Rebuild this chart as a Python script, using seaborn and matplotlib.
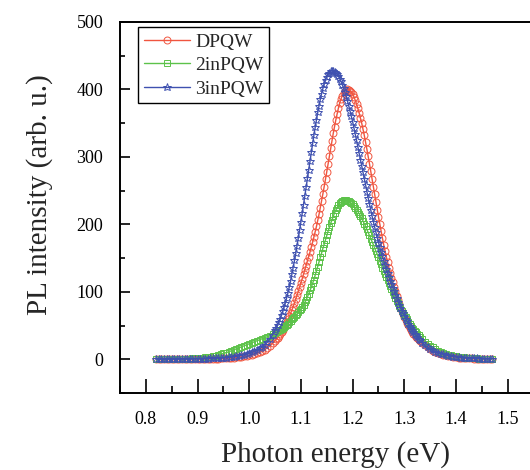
import numpy as np
import pandas as pd
import matplotlib
matplotlib.use("Agg")
import matplotlib.pyplot as plt
from matplotlib.ticker import MultipleLocator
import seaborn as sns

# ---- data ----
# photon energy grid: 5 meV in the tails, 2.5 meV across the peaks
energy = np.round(np.concatenate([
    np.arange(0.820, 1.0499, 0.005),     # 0.820 ... 1.045  (46)
    np.arange(1.050, 1.3299, 0.0025),    # 1.050 ... 1.3275 (112)
    np.arange(1.330, 1.4701, 0.005),     # 1.330 ... 1.470  (29)
]), 4)

dpqw = [
    # 0.820 - 1.045
    0.2, 0.2, 0.2, 0.2, 0.2, 0.3, 0.3, 0.3, 0.3, 0.3,
    0.4, 0.4, 0.4, 0.5, 0.5, 0.6, 0.6, 0.7, 0.7, 0.8,
    0.8, 0.9, 0.9, 1.0, 1.1, 1.2, 1.3, 1.5, 1.7, 2.0,
    2.3, 2.7, 3.1, 3.6, 4.2, 4.9, 5.7, 6.6, 7.7, 9.0,
    10.5, 12.3, 14.5, 17, 20, 23.5,
    # 1.050 - 1.3275
    27.5, 29.7, 32, 34.7, 37.5, 40.7, 44, 47.5,
    51, 55, 59, 63.5, 68, 73, 78, 83.5,
    89, 95, 101, 107, 113, 119.5, 126, 132.5,
    139, 145.5, 152, 159, 166, 173.5, 181, 189,
    197, 206, 215, 225, 235, 245.5, 256, 267,
    278, 289.5, 301, 312.5, 324, 335, 345, 355,
    364, 372.5, 380, 386, 391, 395, 398, 399.5,
    400, 399.5, 398, 396, 393, 389, 384, 378.5,
    372, 365.5, 358, 350, 341, 332, 322, 311.5,
    301, 290, 279, 267.5, 256, 244.5, 233, 222,
    211, 200.5, 190, 180, 170, 161, 152, 144,
    136, 128.5, 121, 114, 107, 100.5, 94, 88,
    82, 76.5, 71, 66.5, 62, 58, 54, 50.5,
    47, 44, 41, 38, 35.5, 33, 31, 29,
    # 1.330 - 1.470
    27, 23.5, 20.5, 17.5, 15, 12.8, 11, 9.4,
    8, 6.8, 5.8, 4.9, 4.2, 3.6, 3.1, 2.6, 2.2, 1.9,
    1.6, 1.4, 1.2, 1.0, 0.9, 0.8, 0.7, 0.6, 0.5, 0.5,
    0.4,
]

in2pqw = [
    # 0.820 - 1.045
    0.1, 0.2, 0.2, 0.2, 0.3, 0.3, 0.4, 0.4, 0.5, 0.6,
    0.7, 0.8, 0.9, 1.1, 1.3, 1.5, 1.8, 2.1, 2.5, 3.0,
    3.5, 4.1, 4.8, 5.6, 6.5, 7.5, 8.6, 9.8, 11, 12.5,
    14, 15.5, 17, 18.5, 20, 21.5, 23, 24.5, 26, 27.5,
    29, 30.5, 32, 33.5, 35, 37,
    # 1.050 - 1.3275
    39.5, 40.8, 42, 43, 44, 45.5, 47, 48.5,
    50, 51.5, 53, 55, 57, 59, 61, 63,
    65, 67.5, 70, 72.5, 75, 78, 81, 84.5,
    88, 92.5, 97, 102, 107, 112.5, 118, 124.5,
    131, 137.5, 144, 151, 158, 164.5, 171, 177.5,
    184, 190, 196, 201.5, 207, 212, 217, 221,
    225, 228, 231, 233, 235, 235.7, 236, 235.7,
    235, 234, 233, 231.5, 230, 227.5, 225, 222,
    219, 216, 213, 209, 205, 201, 197, 192.5,
    188, 183.5, 179, 174.5, 170, 165, 160, 155.5,
    151, 146, 141, 136, 131, 126.5, 122, 117.5,
    113, 108.5, 104, 99.5, 95, 91, 87, 83,
    79, 75.5, 72, 68.5, 65, 62, 59, 56,
    53, 50, 47, 44.5, 42, 39.8, 37.5, 35.5,
    # 1.330 - 1.470
    33.5, 29.5, 26, 23, 20, 17.5, 15, 13,
    11, 9.5, 8, 6.8, 5.8, 4.9, 4.2, 3.6, 3.1, 2.7,
    2.3, 2.0, 1.7, 1.5, 1.3, 1.1, 1.0, 0.9, 0.8, 0.7,
    0.6,
]

in3pqw = [
    # 0.820 - 1.045
    0.2, 0.2, 0.2, 0.2, 0.2, 0.3, 0.3, 0.3, 0.3, 0.4,
    0.4, 0.4, 0.5, 0.5, 0.6, 0.6, 0.7, 0.8, 0.9, 1.0,
    1.1, 1.2, 1.4, 1.6, 1.8, 2.0, 2.3, 2.6, 3.0, 3.5,
    4.0, 4.6, 5.3, 6.1, 7.0, 8.0, 9.2, 10.5, 12, 14,
    16, 18.5, 21.5, 25.5, 30, 36,
    # 1.050 - 1.3275
    43, 47, 51, 55.5, 60, 65.5, 71, 77.5,
    84, 91.5, 99, 107.5, 116, 126, 136, 146.5,
    157, 168.5, 180, 192, 204, 216.5, 229, 242,
    255, 268, 281, 294, 307, 320, 332, 344,
    355, 366, 376, 385.5, 394, 401.5, 408, 414,
    419, 422.5, 425, 427, 428, 427.5, 426.5, 425,
    423, 420, 416, 412, 407, 401.5, 396, 390,
    383, 375.5, 368, 360, 352, 343, 334, 324.5,
    315, 305.5, 296, 286.5, 277, 267.5, 258, 248.5,
    239, 230, 221, 212.5, 204, 196, 188, 180.5,
    173, 166, 159, 152.5, 146, 139.5, 133.5, 127.5,
    122, 116.5, 111, 105.5, 100.5, 95.5, 90.5, 85.5,
    81, 76.5, 72, 68, 64, 60, 56.5, 53,
    49.5, 46.5, 43.5, 40.5, 38, 35.5, 33, 30.5,
    # 1.330 - 1.470
    28.5, 24.5, 21, 18, 15.4, 13.2, 11.3, 9.7,
    8.3, 7.1, 6.1, 5.2, 4.5, 3.9, 3.4, 2.9, 2.5, 2.2,
    1.9, 1.7, 1.5, 1.3, 1.2, 1.1, 1.0, 0.9, 0.8, 0.7,
    0.6,
]

series_names = ["DPQW", "2inPQW", "3inPQW"]
series_values = [dpqw, in2pqw, in3pqw]
series_colors = ["#f0553f", "#5cc24a", "#3f51b0"]
series_markers = ["o", "s", "*"]
series_msize = [5, 4.6, 6.2]

x_ticks = [0.8, 0.9, 1.0, 1.1, 1.2, 1.3, 1.4, 1.5]
y_ticks = [0, 100, 200, 300, 400, 500]

# ---- style ----
sns.set_style("ticks")
plt.rcParams["font.family"] = ["Liberation Serif", "DejaVu Serif"]

fig = plt.figure(figsize=(5.3, 4.7), dpi=100)
ax = fig.add_axes([0.2264, 0.1638, 0.7804, 0.7894])

for name, vals, col, mk, ms in zip(series_names, series_values,
                                   series_colors, series_markers, series_msize):
    df = pd.DataFrame({"energy": energy, "intensity": vals})
    sns.lineplot(data=df, x="energy", y="intensity", ax=ax, color=col,
                 linewidth=1.0, marker=mk, markersize=ms,
                 markerfacecolor="none", markeredgecolor=col,
                 markeredgewidth=0.7, label=name, sort=False)

ax.set_xlim(0.75, 1.55)
ax.set_ylim(-50, 500)
ax.set_xticks(x_ticks)
ax.set_xticklabels([f"{v:.1f}" for v in x_ticks])
ax.set_yticks(y_ticks)
ax.xaxis.set_minor_locator(MultipleLocator(0.05))
ax.yaxis.set_minor_locator(MultipleLocator(50))

ax.tick_params(axis="both", which="both", direction="in", colors="black",
               labelsize=13)
ax.tick_params(axis="x", which="major", length=10, width=1.2, pad=13)
ax.tick_params(axis="x", which="minor", length=5, width=1.2)
ax.tick_params(axis="y", which="major", length=7, width=1.2, pad=12)
ax.tick_params(axis="y", which="minor", length=3.5, width=1.2)

for sp in ax.spines.values():
    sp.set_linewidth(1.4)
    sp.set_color("black")

ax.set_xlabel("Photon energy (eV)", fontsize=21, labelpad=9, x=0.52)
ax.set_ylabel("PL intensity (arb. u.)", fontsize=21, labelpad=17, y=0.535)

leg = ax.legend(loc="upper left", bbox_to_anchor=(0.0435, 0.986),
                borderaxespad=0, fontsize=14, frameon=True, fancybox=False,
                edgecolor="black", framealpha=1, handlelength=2.4,
                handletextpad=0.25, labelspacing=0.3, borderpad=0.3,
                numpoints=1)
leg.get_frame().set_linewidth(1.0)

fig.savefig("out.png", dpi=100)
